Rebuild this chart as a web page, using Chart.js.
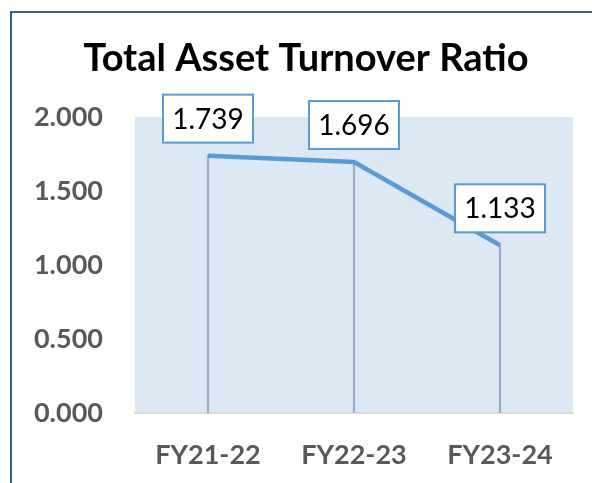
<!DOCTYPE html>
<html>
<head>
<meta charset="utf-8">
<script src="https://cdn.jsdelivr.net/npm/chart.js@4.4.1/dist/chart.umd.min.js"></script>
<style>
    html, body { margin: 0; padding: 0; background: #ffffff; overflow: hidden; }
    #wrap { position: relative; width: 592px; height: 483px; }
</style>
</head>
<body>
<div id="wrap"><canvas id="ratioChart" width="592" height="483"></canvas></div>
<script>
const categories = ['FY21-22', 'FY22-23', 'FY23-24'];
const ratios = [1.739, 1.696, 1.133];
const yTickValues = [0, 0.5, 1, 1.5, 2];

const titleText = 'Total Asset Turnover Ratio';

// light blue plot background + dark frame line on top/left
const backgroundPlugin = {
    id: 'plotBackground',
    beforeDraw(chart) {
        const { ctx, chartArea } = chart;
        ctx.save();
        ctx.fillStyle = '#dde8f5';
        ctx.fillRect(chartArea.left, chartArea.top, chartArea.right - chartArea.left, chartArea.bottom - chartArea.top);
        ctx.strokeStyle = '#3d5f8a';
        ctx.lineWidth = 2;
        ctx.strokeRect(11, 12, 800, 800);
        ctx.restore();
    }
};

// title is centred on the whole (cropped) chart object, not the canvas
const titlePlugin = {
    id: 'offsetTitle',
    afterDraw(chart) {
        const { ctx } = chart;
        ctx.save();
        ctx.font = 'bold 38px Lato';
        ctx.fillStyle = '#000000';
        ctx.textAlign = 'center';
        ctx.textBaseline = 'alphabetic';
        ctx.fillText(titleText, 306, 71);
        ctx.restore();
    }
};

// boxed value labels above each point
const boxLabelPlugin = {
    id: 'boxLabels',
    afterDatasetsDraw(chart) {
        const { ctx } = chart;
        const meta = chart.getDatasetMeta(1);
        const values = chart.data.datasets[1].data;
        ctx.save();
        ctx.font = '28px Lato';
        ctx.textAlign = 'center';
        ctx.textBaseline = 'middle';
        meta.data.forEach((pt, i) => {
            const w = 90, h = 48;
            const x = pt.x - w / 2;
            const y = pt.y - 13 - h;
            ctx.fillStyle = '#ffffff';
            ctx.fillRect(x, y, w, h);
            ctx.strokeStyle = '#5b9bd5';
            ctx.lineWidth = 2;
            ctx.strokeRect(x, y, w, h);
            ctx.fillStyle = '#000000';
            ctx.fillText(values[i].toFixed(3), pt.x, y + h / 2 + 1);
        });
        ctx.restore();
    }
};

window.onload = function() {
    const ctx = document.getElementById('ratioChart').getContext('2d');
    new Chart(ctx, {
        data: {
            labels: categories,
            datasets: [{
                type: 'bar',
                label: 'drop',
                data: ratios,
                backgroundColor: '#97aecb',
                barThickness: 1.5,
                order: 2
            }, {
                type: 'line',
                label: 'Total Asset Turnover Ratio',
                data: ratios,
                borderColor: '#5b9bd5',
                borderWidth: 4.5,
                pointRadius: 0,
                tension: 0,
                fill: false,
                order: 1
            }]
        },
        options: {
            responsive: false,
            animation: false,
            layout: {
                padding: { left: 0, right: 19, top: 117, bottom: 0 }
            },
            scales: {
                x: {
                    offset: true,
                    grid: { display: false, drawTicks: false },
                    border: { display: true, color: '#d9d9d9', width: 2 },
                    ticks: {
                        color: '#595959',
                        font: { family: 'Lato', size: 27, weight: 'bold' },
                        padding: 26
                    },
                    afterFit(scale) { scale.height = 70; }
                },
                y: {
                    min: 0,
                    max: 2,
                    grid: { display: false, drawTicks: false },
                    border: { display: false },
                    afterBuildTicks(scale) {
                        scale.ticks = yTickValues.map(v => ({ value: v }));
                    },
                    ticks: {
                        color: '#595959',
                        font: { family: 'Lato', size: 27, weight: 'bold' },
                        padding: 32,
                        callback: v => v.toFixed(3)
                    },
                    afterFit(scale) { scale.width = 135; }
                }
            },
            plugins: {
                legend: { display: false },
                tooltip: { enabled: false },
                title: { display: false }
            }
        },
        plugins: [backgroundPlugin, boxLabelPlugin, titlePlugin]
    });
};
</script>
</body>
</html>
